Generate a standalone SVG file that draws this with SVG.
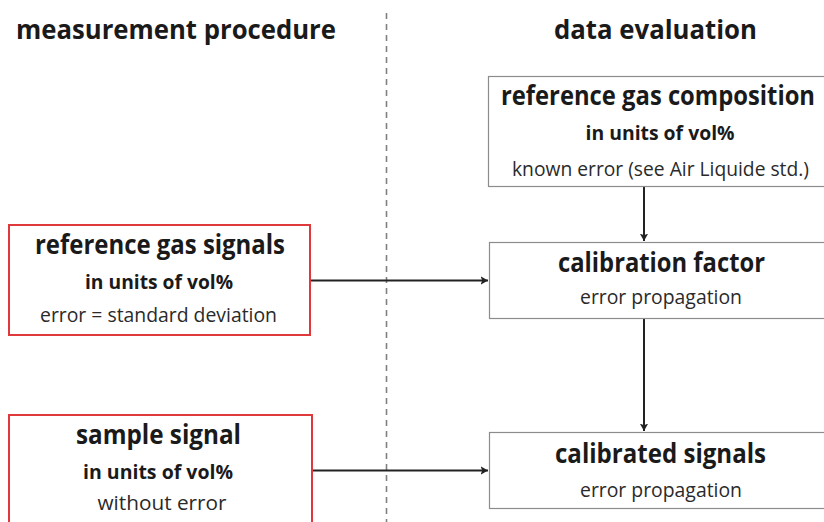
<svg xmlns="http://www.w3.org/2000/svg" width="824" height="522" viewBox="0 0 824 522">
  <defs>
    <style>
      text { font-family: "Open Sans", "Noto Sans", "Liberation Sans", sans-serif; fill: #1a1a1a; text-anchor: middle; }
      .title { font-size: 27px; font-weight: 700; }
      .head { font-size: 26px; font-weight: 700; }
      .sub { font-size: 20px; font-weight: 700; }
      .note { font-size: 20px; font-weight: 400; fill: #2a2a2a; }
      .box-eval { fill: #ffffff; stroke: #8c8c8c; stroke-width: 1.2; }
      .box-meas { fill: #ffffff; stroke: #e0393b; stroke-width: 2; }
      .edge { fill: none; stroke: #222222; stroke-width: 2; }
      .divider { stroke: #808080; stroke-width: 1.6; stroke-dasharray: 6 5; }
    </style>
    <marker id="arrow" viewBox="0 0 8 10" refX="7.5" refY="5" markerWidth="8" markerHeight="10" markerUnits="userSpaceOnUse" orient="auto">
      <path d="M0,0.8 L7.5,5 L0,9.2 L1.8,5 Z" fill="#222222"/>
    </marker>
  </defs>

  <rect width="824" height="522" fill="#ffffff"/>

  <!-- column headings and divider -->
  <g id="headings">
    <text class="title" x="176" y="39" textLength="320" lengthAdjust="spacingAndGlyphs">measurement procedure</text>
    <text class="title" x="655.5" y="39" textLength="203" lengthAdjust="spacingAndGlyphs">data evaluation</text>
    <line class="divider" x1="386.5" y1="13" x2="386.5" y2="522"/>
  </g>

  <!-- connectors -->
  <g id="connectors">
    <line class="edge" x1="644" y1="186" x2="644" y2="241" marker-end="url(#arrow)"/>
    <line class="edge" x1="644" y1="318" x2="644" y2="431" marker-end="url(#arrow)"/>
    <line class="edge" x1="311" y1="280.5" x2="488" y2="280.5" marker-end="url(#arrow)"/>
    <line class="edge" x1="313" y1="470.5" x2="488" y2="470.5" marker-end="url(#arrow)"/>
  </g>

  <!-- data evaluation nodes -->
  <g id="reference-gas-composition">
    <rect class="box-eval" x="488.5" y="76.5" width="345" height="110"/>
    <text class="head" x="658" y="105" textLength="314" lengthAdjust="spacingAndGlyphs">reference gas composition</text>
    <text class="sub" x="660" y="140" textLength="149" lengthAdjust="spacingAndGlyphs">in units of vol%</text>
    <text class="note" x="660.5" y="176" textLength="297" lengthAdjust="spacingAndGlyphs">known error (see Air Liquide std.)</text>
  </g>

  <g id="calibration-factor">
    <rect class="box-eval" x="489.5" y="242.5" width="344" height="76"/>
    <text class="head" x="661.5" y="272" textLength="207" lengthAdjust="spacingAndGlyphs">calibration factor</text>
    <text class="note" x="661" y="304" textLength="162" lengthAdjust="spacingAndGlyphs">error propagation</text>
  </g>

  <g id="calibrated-signals">
    <rect class="box-eval" x="489.5" y="432.5" width="344" height="76"/>
    <text class="head" x="660.5" y="463" textLength="211" lengthAdjust="spacingAndGlyphs">calibrated signals</text>
    <text class="note" x="661" y="497" textLength="162" lengthAdjust="spacingAndGlyphs">error propagation</text>
  </g>

  <!-- measurement nodes -->
  <g id="reference-gas-signals">
    <rect class="box-meas" x="9" y="225" width="301" height="110"/>
    <text class="head" x="160" y="254" textLength="250" lengthAdjust="spacingAndGlyphs">reference gas signals</text>
    <text class="sub" x="159" y="289" textLength="148" lengthAdjust="spacingAndGlyphs">in units of vol%</text>
    <text class="note" x="158.5" y="322" textLength="237" lengthAdjust="spacingAndGlyphs">error = standard deviation</text>
  </g>

  <g id="sample-signal">
    <rect class="box-meas" x="9" y="415" width="303" height="120"/>
    <text class="head" x="158.5" y="444" textLength="165" lengthAdjust="spacingAndGlyphs">sample signal</text>
    <text class="sub" x="158" y="479" textLength="150" lengthAdjust="spacingAndGlyphs">in units of vol%</text>
    <text class="note" x="162" y="510" textLength="129" lengthAdjust="spacingAndGlyphs">without error</text>
  </g>
</svg>
